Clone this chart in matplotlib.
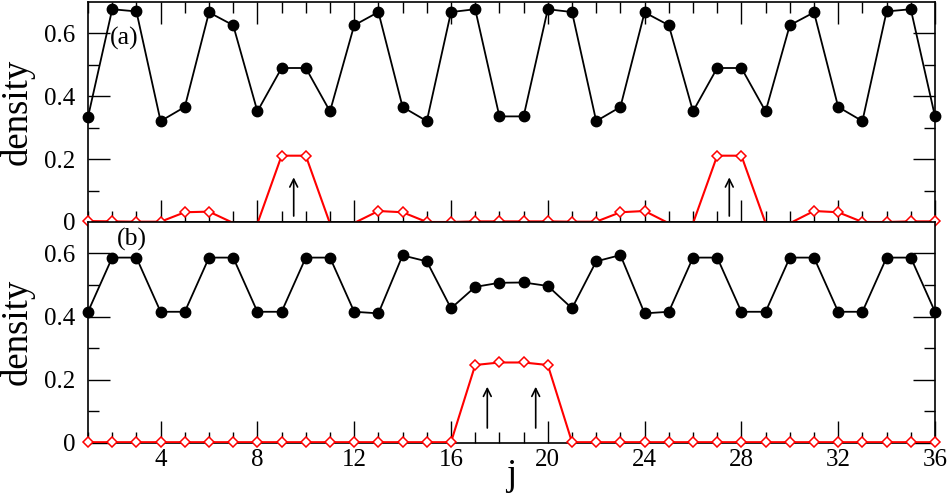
import numpy as np
import matplotlib
matplotlib.use("Agg")
import matplotlib.pyplot as plt
from matplotlib import font_manager

# ---- data ----
j = np.arange(1, 37)

dens_a_black = [0.334, 0.677, 0.670, 0.321, 0.366, 0.667, 0.626, 0.352, 0.490,
                0.490, 0.352, 0.626, 0.668, 0.366, 0.321, 0.668, 0.677, 0.336,
                0.336, 0.677, 0.668, 0.321, 0.366, 0.667, 0.626, 0.352, 0.490,
                0.490, 0.352, 0.626, 0.667, 0.366, 0.321, 0.670, 0.677, 0.336]
dens_a_red = [0.003, 0.002, 0.001, 0.001, 0.031, 0.033, -0.003, -0.005, 0.211,
              0.211, -0.005, -0.003, 0.035, 0.031, 0.000, 0.000, 0.002, 0.002,
              0.002, 0.002, 0.001, 0.001, 0.031, 0.035, -0.004, -0.004, 0.211,
              0.211, -0.004, -0.004, 0.035, 0.031, 0.000, 0.000, 0.002, 0.002]

dens_b_black = [0.415, 0.587, 0.587, 0.415, 0.415, 0.587, 0.587, 0.415, 0.415,
                0.587, 0.587, 0.415, 0.410, 0.594, 0.575, 0.426, 0.494, 0.507,
                0.508, 0.497, 0.426, 0.575, 0.595, 0.410, 0.415, 0.587, 0.587,
                0.415, 0.415, 0.587, 0.587, 0.415, 0.415, 0.587, 0.587, 0.415]
dens_b_red = [0.001] * 16 + [0.246, 0.254, 0.254, 0.246] + [0.001] * 16

arrows_a = [9.5, 27.5]
arrows_b = [17.5, 19.5]
panel_labels = ["(a)", "(b)"]
xticks = [4, 8, 12, 16, 20, 24, 28, 32, 36]
yticks = [0, 0.2, 0.4, 0.6]
ytick_labels = ["0", "0.2", "0.4", "0.6"]

# make sure the serif family is really available
font_manager.findfont("Liberation Serif", fallback_to_default=False)

plt.rcParams['font.family'] = ['Liberation Serif', 'DejaVu Serif']

fig = plt.figure(figsize=(9.52, 4.96), dpi=100)
L, R = 88 / 952, 935 / 952
ax_a = fig.add_axes([L, 1 - 222 / 496, R - L, 220 / 496])
ax_b = fig.add_axes([L, 1 - 442.5 / 496, R - L, 220.5 / 496], sharex=ax_a)

def style(ax, top_ticks):
    ax.set_xlim(1, 36)
    ax.set_ylim(0, 0.7)
    ax.set_yticks(yticks)
    ax.set_yticklabels(ytick_labels)
    ax.set_yticks([0.1, 0.3, 0.5], minor=True)
    ax.set_xticks(xticks)
    ax.set_xticks(np.arange(1, 37), minor=True)
    ax.tick_params(which='both', direction='in', left=True, right=True,
                   bottom=True, top=top_ticks, width=1.0, labelsize=18)
    ax.tick_params(axis='x', pad=5)
    ax.tick_params(axis='y', pad=9)
    ax.tick_params(which='major', length=16)
    ax.tick_params(which='minor', length=8)
    for s in ax.spines.values():
        s.set_linewidth(1.2)
    ax.set_ylabel("density", fontsize=26.5, labelpad=7)

def draw(ax, black, red, arrows, ytail, yhead, label, lx, ly):
    ax.plot(j, black, color='black', lw=1.3, marker='o', ms=7.5,
            mfc='black', mec='black', clip_on=False, zorder=3)
    red = np.asarray(red)
    ax.plot(j, red, color='red', lw=1.5, zorder=2.8)
    keep = [i for i, v in enumerate(red) if v >= 0]
    ax.plot(j, red, color='red', lw=0, marker='D', ms=4.8, mfc='white',
            mec='red', mew=1.1, markevery=keep, clip_on=False, zorder=2.9)
    for xa in arrows:
        ax.annotate("", xy=(xa, yhead), xytext=(xa, ytail),
                    arrowprops=dict(arrowstyle='->', color='black', lw=1.2,
                                    mutation_scale=14, shrinkA=0, shrinkB=0))
    ax.text(lx, ly, label, fontsize=18.5, ha='center', va='center')

style(ax_a, True)
style(ax_b, False)
ax_a.tick_params(labelbottom=False)

draw(ax_a, dens_a_black, dens_a_red, arrows_a, 0.019, 0.142, panel_labels[0], 2.49, 0.585)
draw(ax_b, dens_b_black, dens_b_red, arrows_b, 0.046, 0.177, panel_labels[1], 2.8, 0.644)

ax_b.set_xlabel("j", fontsize=26.5, labelpad=-9)

fig.savefig("out.png", dpi=100)
